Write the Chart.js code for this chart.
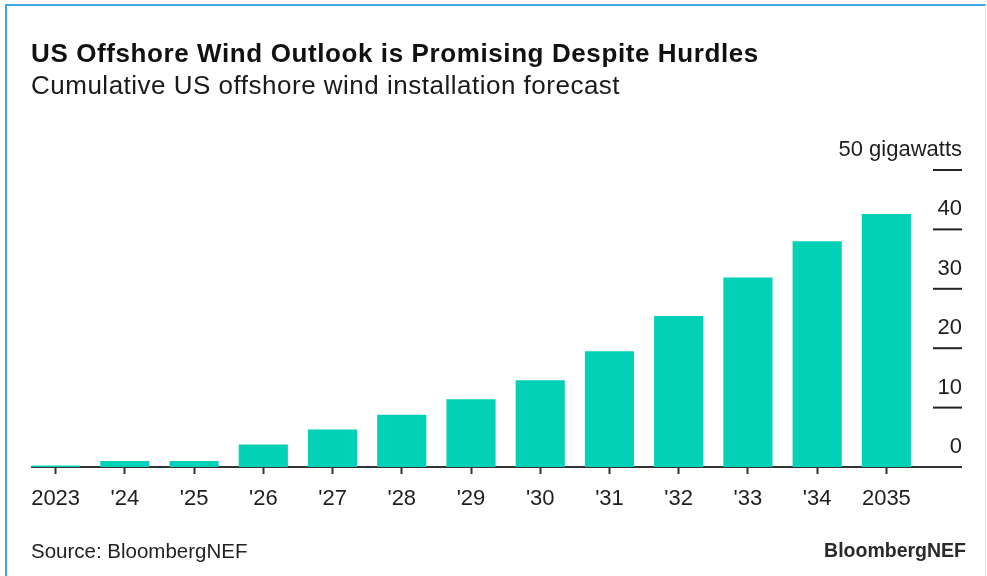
<!DOCTYPE html>
<html>
<head>
<meta charset="utf-8">
<script src="https://cdn.jsdelivr.net/npm/chart.js@4"></script>
<style>
  html, body { margin: 0; padding: 0; background: #fff; }
  body { width: 987px; height: 576px; position: relative; overflow: hidden; font-family: "Liberation Sans", Arial, sans-serif; color: #111; }
  .frame { position: absolute; left: 5px; top: 4px; width: 978px; height: 600px; border-left: 2px solid #3aa6e2; border-top: 2px solid #3aa6e2; border-right: 1px solid #cfe4f2; }
  .wrap { position: absolute; left: 0; top: 0; width: 987px; height: 576px; }
  .title { position: absolute; left: 31px; top: 39px; font-size: 26px; line-height: 28px; letter-spacing: 0.6px; font-weight: bold; white-space: nowrap; }
  .subtitle { position: absolute; left: 31px; top: 71px; font-size: 26px; line-height: 28px; letter-spacing: 0.5px; white-space: nowrap; color: #1a1a1a; }
  .source { position: absolute; left: 31px; top: 539px; font-size: 20.5px; line-height: 23px; color: #222; white-space: nowrap; }
  .logo { position: absolute; right: 21px; top: 539px; font-size: 19.5px; line-height: 23px; font-weight: bold; color: #2a2a2a; white-space: nowrap; }
</style>
</head>
<body>
<div class="frame"></div>
<div class="wrap"><canvas id="chart"></canvas></div>
<div class="title">US Offshore Wind Outlook is Promising Despite Hurdles</div>
<div class="subtitle">Cumulative US offshore wind installation forecast</div>
<div class="source">Source: BloombergNEF</div>
<div class="logo">BloombergNEF</div>
<script>
// 数据
var years = ['2023', "'24", "'25", "'26", "'27", "'28", "'29", "'30", "'31", "'32", "'33", "'34", '2035'];
var gigawatts = [0.25, 1.0, 1.0, 3.8, 6.3, 8.8, 11.4, 14.6, 19.5, 25.4, 31.9, 38.0, 42.6];
var yTickValues = [0, 10, 20, 30, 40, 50];
var yTickLabels = ['0', '10', '20', '30', '40', '50 gigawatts'];

var barColor = '#03d1b5';
var inkColor = '#333333';
var labelFont = '22px "Liberation Sans", Arial, sans-serif';

// 基线、右侧刻度和标签
var axisPlugin = {
    id: 'bnefAxis',
    beforeDatasetsDraw: function (chart) {
        var ctx = chart.ctx;
        var y = chart.scales.y;
        var x = chart.scales.x;
        var left = x.getPixelForValue(0) - (x.getPixelForValue(1) - x.getPixelForValue(0)) * 0.355;
        ctx.save();
        ctx.strokeStyle = inkColor;
        ctx.lineWidth = 2;
        ctx.beginPath();
        ctx.moveTo(left, y.getPixelForValue(0));
        ctx.lineTo(962, y.getPixelForValue(0));
        ctx.stroke();
        ctx.restore();
    },
    afterDraw: function (chart) {
        var ctx = chart.ctx;
        var y = chart.scales.y;
        ctx.save();
        ctx.strokeStyle = '#222';
        ctx.lineWidth = 2;
        ctx.fillStyle = '#1e1e1e';
        ctx.font = labelFont;
        ctx.textAlign = 'right';
        ctx.textBaseline = 'middle';
        yTickValues.forEach(function (v, i) {
            var py = y.getPixelForValue(v);
            if (v > 0) {
                ctx.beginPath();
                ctx.moveTo(933, py);
                ctx.lineTo(962, py);
                ctx.stroke();
            }
            ctx.fillText(yTickLabels[i], 962, py - 20);
        });
        ctx.restore();
    }
};

var chart = new Chart(document.getElementById('chart'), {
    type: 'bar',
    data: {
        labels: years,
        datasets: [{
            data: gigawatts,
            backgroundColor: barColor,
            borderWidth: 0,
            barPercentage: 0.71,
            categoryPercentage: 1.0
        }]
    },
    options: {
        responsive: true,
        maintainAspectRatio: false,
        animation: false,
        layout: { padding: { left: 21, right: 66, top: 170, bottom: 51.6 } },
        plugins: {
            legend: { display: false },
            tooltip: { enabled: false }
        },
        scales: {
            x: {
                grid: { drawOnChartArea: false, offset: false, tickLength: 7, tickColor: inkColor, tickWidth: 2 },
                border: { display: false },
                ticks: { color: '#1e1e1e', font: { family: '"Liberation Sans", Arial, sans-serif', size: 22 }, padding: 12, maxRotation: 0, autoSkip: false }
            },
            y: {
                display: false,
                min: 0,
                max: 50
            }
        }
    },
    plugins: [axisPlugin]
});
</script>
</body>
</html>
